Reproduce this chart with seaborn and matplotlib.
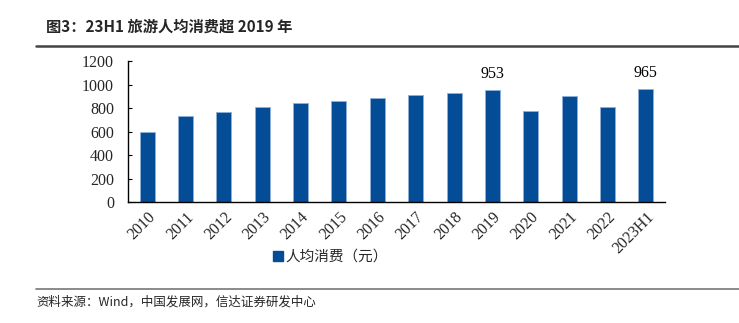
import matplotlib
matplotlib.use("Agg")
import matplotlib.pyplot as plt
import matplotlib.lines as mlines
import seaborn as sns
import pandas as pd

# Per-capita tourism spending (yuan)
years = ["2010", "2011", "2012", "2013", "2014", "2015", "2016",
         "2017", "2018", "2019", "2020", "2021", "2022", "2023H1"]
spend = [598, 731, 768, 806, 840, 857, 888, 913, 926, 953, 774, 899, 810, 965]
labelled = ["2019", "2023H1"]

series_name = "人均消费（元）"
title_text = "图3：23H1 旅游人均消费超 2019 年"
source_text = "资料来源：Wind，中国发展网，信达证券研发中心"

df = pd.DataFrame({"year": years, "spend": spend})

sns.set_theme(style="white")
plt.rcParams["font.family"] = ["Liberation Serif", "Noto Sans CJK SC", "DejaVu Sans"]

bar_color = "#044c96"

fig = plt.figure(figsize=(7.39, 3.23), dpi=100)
ax = fig.add_axes([0.1732, 0.3746, 0.7267, 0.4365])

sns.barplot(data=df, x="year", y="spend", color=bar_color, width=0.39,
            saturation=1, edgecolor="#8fb0d6", linewidth=0.6, ax=ax)

ax.set_xlim(-0.5, len(years) - 0.5)
ax.set_ylim(0, 1200)
ax.set_yticks(range(0, 1201, 200))
ax.set_xlabel("")
ax.set_ylabel("")

for s in ["top", "right"]:
    ax.spines[s].set_visible(False)
for s in ["left", "bottom"]:
    ax.spines[s].set_color("black")
    ax.spines[s].set_linewidth(1.0)

ax.tick_params(axis="y", direction="in", length=3, width=0.8, color="black",
               labelsize=11.5, pad=10, left=True)
ax.tick_params(axis="x", length=0, labelsize=11.5, pad=5)
for lab in ax.get_xticklabels():
    lab.set_rotation(45)
    lab.set_ha("right")
    lab.set_rotation_mode("anchor")

for i, (yr, v) in enumerate(zip(years, spend)):
    if yr in labelled:
        ax.text(i, v + 65, f"{v}", ha="center", va="bottom", fontsize=11.5,
                color="black")

# legend below the axis labels
handle = mlines.Line2D([], [], marker="s", linestyle="none", markersize=7,
                       markerfacecolor=bar_color, markeredgecolor=bar_color)
fig.legend([handle], [series_name], loc="center", bbox_to_anchor=(0.447, 0.205),
           frameon=False, handletextpad=0.1, handlelength=0.8,
           prop={"family": ["Noto Sans CJK SC"], "size": 10.5})

# title and rules
fig.text(0.062, 0.918, title_text, fontsize=11, fontweight="bold",
         family=["Noto Sans CJK SC", "DejaVu Sans"], ha="left", va="center")
fig.add_artist(mlines.Line2D([0.049, 1.0], [0.858, 0.858], color="#444444",
                             linewidth=1.8, transform=fig.transFigure))
fig.add_artist(mlines.Line2D([0.049, 1.0], [0.105, 0.105], color="#777777",
                             linewidth=1.2, transform=fig.transFigure))
fig.text(0.049, 0.085, source_text, fontsize=9, va="top",
         family=["Noto Sans CJK SC", "DejaVu Sans"], ha="left")

fig.savefig("out.png", dpi=100)
